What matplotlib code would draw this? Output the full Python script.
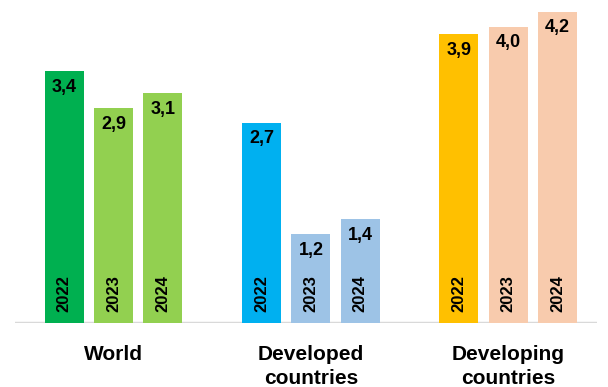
import matplotlib.pyplot as plt
import numpy as np

plt.rcParams['font.family'] = ['Liberation Sans', 'DejaVu Sans']

# data
groups = ['World', 'Developed\ncountries', 'Developing\ncountries']
years = ['2022', '2023', '2024']
world = [3.4, 2.9, 3.1]
developed = [2.7, 1.2, 1.4]
developing = [3.9, 4.0, 4.2]
colors = [['#00B050', '#92D050', '#92D050'],
          ['#00B0F0', '#9DC3E6', '#9DC3E6'],
          ['#FFC000', '#F8CBAD', '#F8CBAD']]

fig = plt.figure(figsize=(6.08, 3.87), dpi=100)
ax = fig.add_axes([0.0247, 0.1654, 0.957, 0.8346])

for g, vals in enumerate([world, developed, developing]):
    x = np.arange(len(vals)) + g * 4
    bars = ax.bar(x, vals, width=0.79, color=colors[g], zorder=2)
    for xi, v, yr in zip(x, vals, years):
        ax.annotate(('%.1f' % v).replace('.', ','), (xi, v), xytext=(0, -11.5),
                    textcoords='offset points', ha='center', va='center',
                    fontsize=13, fontweight='bold')
        ax.annotate(yr, (xi, 0), xytext=(0, 8), textcoords='offset points',
                    ha='center', va='bottom', rotation=90,
                    fontsize=12, fontweight='bold')
    ax.annotate(groups[g], (x[1], 0), xytext=(0, -16), textcoords='offset points',
                ha='center', va='top', fontsize=15, fontweight='bold',
                linespacing=1.3, annotation_clip=False)

ax.axhline(0, color='#D9D9D9', lw=2.5, zorder=1)
ax.set_xlim(-1.0, 10.8)
ax.set_ylim(0, 4.36)
ax.axis('off')

plt.savefig('out.png', dpi=100)
